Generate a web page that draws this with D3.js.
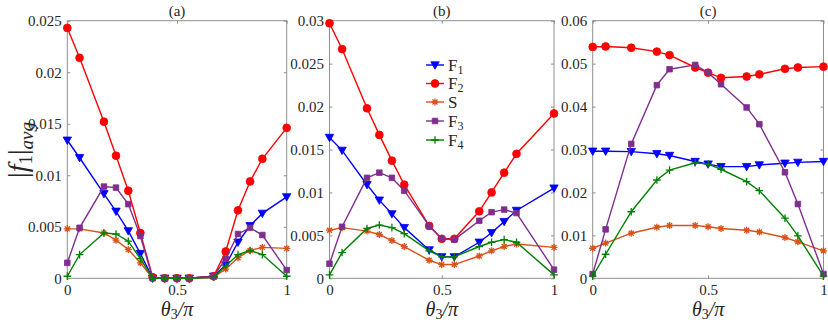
<!DOCTYPE html>
<html>
<head>
<meta charset="utf-8">
<script src="https://cdn.jsdelivr.net/npm/d3@7/dist/d3.min.js"></script>
<style>
  body { margin: 0; background: #fff; }
  #chart text, #chart tspan { font-family: "Liberation Serif", "Times New Roman", Tinos, "Nimbus Roman", serif !important; }
</style>
</head>
<body>
<svg id="chart" width="828" height="323"></svg>
<script>
// theta3/pi sample points of each panel
const xA = [0, 0.056, 0.167, 0.222, 0.278, 0.333, 0.389, 0.444, 0.5, 0.556, 0.667, 0.722, 0.778, 0.833, 0.889, 1];
const xB = [0, 0.056, 0.167, 0.222, 0.278, 0.333, 0.444, 0.5, 0.556, 0.667, 0.722, 0.778, 0.833, 1];
const xC = [0, 0.056, 0.167, 0.278, 0.333, 0.444, 0.5, 0.556, 0.667, 0.722, 0.833, 0.889, 1];

// panel (a)
const f1A = [0.0134, 0.0117, 0.0082, 0.0065, 0.0046, 0.0024, 0, 0, 0, 0, 0.0002, 0.0013, 0.0035, 0.0051, 0.0063, 0.0079];
const f2A = [0.0243, 0.0214, 0.0152, 0.0119, 0.0085, 0.0044, 0.0001, 0, 0, 0, 0.0002, 0.0026, 0.0066, 0.0094, 0.0116, 0.0146];
const sA  = [0.0048, 0.0048, 0.0044, 0.0037, 0.0028, 0.0015, 0, 0, 0, 0, 0.0001, 0.0009, 0.0020, 0.0027, 0.0030, 0.0029];
const f3A = [0.0015, 0.0049, 0.0089, 0.0088, 0.0072, 0.0041, 0, 0, 0, 0, 0.0002, 0.0019, 0.0043, 0.0049, 0.0042, 0.0008];
const f4A = [0.0002, 0.0023, 0.0044, 0.0043, 0.0036, 0.0019, 0, 0, 0, 0, 0.0001, 0.0012, 0.0023, 0.0027, 0.0023, 0.0002];

// panel (b)
const f1B = [0.0164, 0.0149, 0.0109, 0.0091, 0.0075, 0.0059, 0.0033, 0.0025, 0.0025, 0.0042, 0.0053, 0.0066, 0.0079, 0.0105];
const f2B = [0.0297, 0.0267, 0.0198, 0.0167, 0.0137, 0.0109, 0.0061, 0.0046, 0.0046, 0.0078, 0.0100, 0.0123, 0.0145, 0.0192];
const sB  = [0.0056, 0.0059, 0.0055, 0.0051, 0.0044, 0.0037, 0.0021, 0.0016, 0.0016, 0.0026, 0.0032, 0.0037, 0.0040, 0.0036];
const f3B = [0.0017, 0.0060, 0.0117, 0.0123, 0.0117, 0.0102, 0.0061, 0.0046, 0.0045, 0.0067, 0.0077, 0.0080, 0.0076, 0.0010];
const f4B = [0.0004, 0.0030, 0.0058, 0.0062, 0.0059, 0.0052, 0.0032, 0.0025, 0.0025, 0.0037, 0.0042, 0.0045, 0.0042, 0.0004];

// panel (c)
const f1C = [0.0296, 0.0296, 0.0295, 0.0290, 0.0286, 0.0272, 0.0266, 0.0260, 0.0260, 0.0264, 0.0268, 0.0270, 0.0272];
const f2C = [0.0539, 0.0540, 0.0537, 0.0528, 0.0520, 0.0491, 0.0479, 0.0467, 0.0470, 0.0475, 0.0488, 0.0491, 0.0493];
const sC  = [0.0070, 0.0082, 0.0105, 0.0119, 0.0123, 0.0123, 0.0120, 0.0116, 0.0112, 0.0108, 0.0095, 0.0085, 0.0064];
const f3C = [0.0010, 0.0114, 0.0313, 0.0450, 0.0487, 0.0497, 0.0479, 0.0452, 0.0398, 0.0359, 0.0247, 0.0173, 0.0010];
const f4C = [0.0005, 0.0056, 0.0155, 0.0229, 0.0252, 0.0269, 0.0266, 0.0254, 0.0225, 0.0204, 0.0140, 0.0099, 0.0005];

// ticks
const xTicks = [0, 0.5, 1];
const xTickLabels = ['0', '0.5', '1'];
const yTicksA = [0, 0.005, 0.01, 0.015, 0.02, 0.025];
const yTickLabelsA = ['0', '0.005', '0.01', '0.015', '0.02', '0.025'];
const yTicksB = [0, 0.005, 0.01, 0.015, 0.02, 0.025, 0.03];
const yTickLabelsB = ['0', '0.005', '0.01', '0.015', '0.02', '0.025', '0.03'];
const yTicksC = [0, 0.01, 0.02, 0.03, 0.04, 0.05, 0.06];
const yTickLabelsC = ['0', '0.01', '0.02', '0.03', '0.04', '0.05', '0.06'];

const seriesNames = ['F1', 'F2', 'S', 'F3', 'F4'];
const seriesColors = ['#0000ff', '#ff0000', '#d95319', '#7e2f8e', '#008000'];
const seriesMarkers = ['triangle', 'circle', 'asterisk', 'square', 'plus'];

const FONT = 'Liberation Serif';
const svg = d3.select('#chart');
const frameColor = '#8f8f8f';
const plotTop = 20.7, plotBottom = 278.3;

function markerPath(type) {
    if (type === 'triangle') return 'M-4.2,-3.2L4.2,-3.2L0,4.2Z';
    if (type === 'circle') return d3.symbol(d3.symbolCircle, 48)();
    if (type === 'square') return 'M-2.8,-2.8H2.8V2.8H-2.8Z';
    if (type === 'asterisk') return 'M-3.5,0H3.5M0,-3.5V3.5M-2.5,-2.5L2.5,2.5M-2.5,2.5L2.5,-2.5';
    return 'M-3.8,0H3.8M0,-3.8V3.8';
}

function drawMarker(g, type, color, cx, cy) {
    const filled = type === 'triangle' || type === 'circle' || type === 'square';
    g.append('path')
        .attr('d', markerPath(type))
        .attr('transform', `translate(${cx},${cy})`)
        .attr('fill', filled ? color : 'none')
        .attr('stroke', color)
        .attr('stroke-width', filled ? 0.8 : 1.3);
}

function addText(parent, x, y, size) {
    return parent.append('text')
        .style('font-family', `"${FONT}"`)
        .style('font-size', `${size}px`)
        .attr('fill', '#262626')
        .attr('x', x).attr('y', y);
}

function drawPanel(p) {
    const x = d3.scaleLinear().domain([0, 1]).range([p.left, p.right]);
    const y = d3.scaleLinear().domain([0, p.yMax]).range([plotBottom, plotTop]);
    const g = svg.append('g');

    // frame
    g.append('rect')
        .attr('x', p.left).attr('y', plotTop)
        .attr('width', p.right - p.left).attr('height', plotBottom - plotTop)
        .attr('fill', 'none').attr('stroke', frameColor).attr('stroke-width', 1);

    // axes, ticks pointing inwards on all four sides
    const axes = [
        { ax: d3.axisLeft(y).tickValues(p.yTicks).tickFormat((d, i) => p.yTickLabels[i]), tr: `translate(${p.left},0)` },
        { ax: d3.axisRight(y).tickValues(p.yTicks).tickFormat(''), tr: `translate(${p.right},0)` },
        { ax: d3.axisBottom(x).tickValues(xTicks).tickFormat((d, i) => xTickLabels[i]), tr: `translate(0,${plotBottom})` },
        { ax: d3.axisTop(x).tickValues(xTicks).tickFormat(''), tr: `translate(0,${plotTop})` }
    ];
    axes.forEach((a, i) => {
        const ag = g.append('g').attr('transform', a.tr)
            .call(a.ax.tickSizeInner(-3).tickSizeOuter(0).tickPadding(i === 2 ? 6 : 5.5));
        ag.attr('font-family', FONT).attr('font-size', 15);
        ag.select('.domain').remove();
        ag.selectAll('line').attr('stroke', frameColor);
        ag.selectAll('text')
            .style('font-family', `"${FONT}"`)
            .style('font-size', '15px')
            .attr('fill', '#262626');
    });

    // series
    const line = d3.line().x(d => x(d[0])).y(d => y(d[1]));
    p.series.forEach((vals, si) => {
        const pts = p.xs.map((xv, i) => [xv, vals[i]]);
        g.append('path').datum(pts)
            .attr('d', line)
            .attr('fill', 'none')
            .attr('stroke', seriesColors[si])
            .attr('stroke-width', 1.4);
        pts.forEach(d => drawMarker(g, seriesMarkers[si], seriesColors[si], x(d[0]), y(d[1])));
    });

    // title
    addText(g, (p.left + p.right) / 2, 16, 15)
        .attr('text-anchor', 'middle')
        .text(p.title);

    // x label: theta_3 / pi
    const xl = addText(g, (p.left + p.right) / 2, 316, 20).attr('text-anchor', 'middle');
    xl.append('tspan').style('font-style', 'italic').text('θ');
    xl.append('tspan').style('font-size', '14px').attr('dy', 3).text('3');
    xl.append('tspan').attr('dy', -3).style('font-style', 'italic').text('/π');
}

drawPanel({ left: 67.3, right: 286.7, xs: xA, series: [f1A, f2A, sA, f3A, f4A],
    yMax: 0.025, yTicks: yTicksA, yTickLabels: yTickLabelsA, title: '(a)' });
drawPanel({ left: 329.5, right: 554, xs: xB, series: [f1B, f2B, sB, f3B, f4B],
    yMax: 0.03, yTicks: yTicksB, yTickLabels: yTickLabelsB, title: '(b)' });
drawPanel({ left: 592.7, right: 823.5, xs: xC, series: [f1C, f2C, sC, f3C, f4C],
    yMax: 0.06, yTicks: yTicksC, yTickLabels: yTickLabelsC, title: '(c)' });

// y label |f_1|_avg
const yl = addText(svg, 0, 0, 28)
    .attr('transform', 'translate(27,150) rotate(-90)')
    .attr('text-anchor', 'middle');
yl.append('tspan').text('|');
yl.append('tspan').style('font-style', 'italic').text('f');
yl.append('tspan').style('font-size', '19px').attr('dy', 5).text('1');
yl.append('tspan').attr('dy', -5).text('|');
yl.append('tspan').style('font-size', '19px').attr('dy', 6).style('font-style', 'italic').text('avg');

// legend inside panel (b)
const legend = svg.append('g');
const legendRows = [65, 83.5, 102, 121, 140];
seriesNames.forEach((name, i) => {
    const ly = legendRows[i];
    legend.append('line')
        .attr('x1', 426).attr('x2', 444).attr('y1', ly).attr('y2', ly)
        .attr('stroke', seriesColors[i]).attr('stroke-width', 1.4);
    drawMarker(legend, seriesMarkers[i], seriesColors[i], 435, ly);
    const t = addText(legend, 448, ly + 5.5, 17);
    t.append('tspan').text(name[0]);
    if (name.length > 1) t.append('tspan').style('font-size', '12px').attr('dy', 3).text(name.slice(1));
});
</script>
</body>
</html>
